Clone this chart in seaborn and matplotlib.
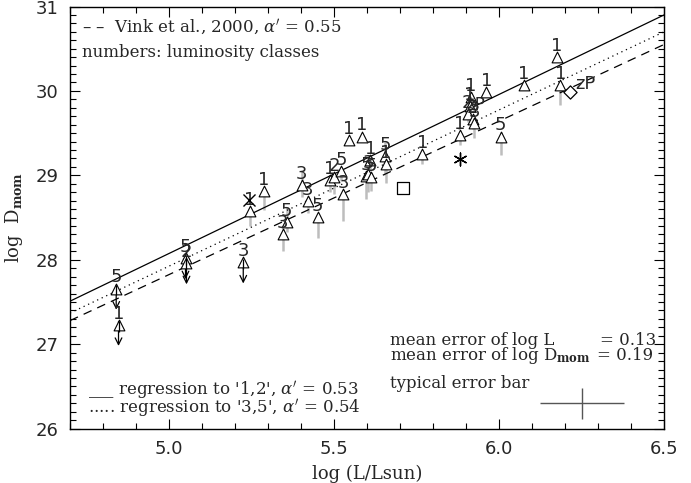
import numpy as np
import pandas as pd
import matplotlib
matplotlib.use("Agg")
import matplotlib.pyplot as plt
import seaborn as sns

# ---------------- data ----------------
log_L = [4.840, 4.847, 5.050, 5.053, 5.225, 5.245, 5.288, 5.402, 5.421, 5.357,
         5.344, 5.450, 5.488, 5.500, 5.521, 5.528, 5.544, 5.585, 5.597, 5.604,
         5.613, 5.610, 5.655, 5.657, 5.768, 5.882, 5.915, 5.912, 5.905, 5.920,
         5.925, 5.962, 6.005, 6.075, 6.175, 6.186]
log_D = [27.66, 27.23, 28.02, 27.96, 27.97, 28.58, 28.81, 28.89, 28.70, 28.45,
         28.31, 28.51, 28.95, 28.98, 29.05, 28.78, 29.42, 29.46, 28.99, 29.02,
         28.98, 29.18, 29.23, 29.13, 29.25, 29.48, 29.93, 29.82, 29.73, 29.67,
         29.62, 29.99, 29.46, 30.07, 30.40, 30.07]
lum_class = ["5", "1", "5", "2", "3", "1", "1", "3", "3", "5",
             "3", "5", "1", "2", "5", "3", "1", "1", "5", "3",
             "5", "1", "5", "1", "1", "1", "1", "1", "2", "2",
             "3", "1", "5", "1", "1", "1"]
err_lo = [0.0, 0.0, 0.0, 0.0, 0.0, 0.18, 0.22, 0.15, 0.15, 0.12,
          0.20, 0.25, 0.15, 0.20, 0.12, 0.32, 0.0, 0.0, 0.27, 0.22,
          0.17, 0.12, 0.22, 0.22, 0.12, 0.12, 0.10, 0.12, 0.10, 0.12,
          0.18, 0.0, 0.22, 0.0, 0.0, 0.24]
err_hi = [0.0, 0.0, 0.0, 0.0, 0.0, 0.05, 0.0, 0.17, 0.05, 0.17,
          0.05, 0.05, 0.05, 0.05, 0.05, 0.05, 0.0, 0.0, 0.05, 0.05,
          0.05, 0.05, 0.17, 0.05, 0.0, 0.0, 0.0, 0.0, 0.0, 0.0,
          0.0, 0.0, 0.05, 0.0, 0.0, 0.0]
upper_limit = [True, True, True, True, True] + [False] * 31

# special objects
cross_x, cross_y = [5.242], [28.71]
square_x, square_y = [5.709], [28.85]
star_x, star_y = [5.882], [29.19]
diamond_x, diamond_y = [6.215], [29.99]

# regression lines (end points at log L = 4.7 and 6.5)
line_x = [4.7, 6.5]
reg12_y = [27.51, 30.90]
reg35_y = [27.37, 30.70]
vink_y = [27.28, 30.55]

# typical error bar
typ_x, typ_y, typ_xerr, typ_yerr = 6.252, 26.30, 0.127, 0.18

df = pd.DataFrame({"logL": log_L, "logD": log_D, "lc": lum_class,
                   "elo": err_lo, "ehi": err_hi, "ul": upper_limit})

# ---------------- figure ----------------
sns.set_style("ticks")
plt.rcParams["font.family"] = ["DejaVu Serif"]
plt.rcParams["mathtext.fontset"] = "dejavuserif"

fig = plt.figure(figsize=(6.91, 4.83), dpi=100)
ax = fig.add_axes([70 / 691, 1 - 428.7 / 483, 594 / 691, 422.2 / 483])

# grey error bars
for _, r in df.iterrows():
    if r.elo > 0 or r.ehi > 0:
        ax.vlines(r.logL, r.logD - r.elo, r.logD + r.ehi, color="#bdbdbd",
                  lw=1.8, zorder=1)

# regression lines
sns.lineplot(x=line_x, y=reg12_y, ax=ax, color="black", lw=0.9, zorder=2)
sns.lineplot(x=line_x, y=reg35_y, ax=ax, color="black", lw=0.9,
             linestyle=(0, (1, 3)), zorder=2)
sns.lineplot(x=line_x, y=vink_y, ax=ax, color="black", lw=0.9,
             linestyle=(0, (7, 5)), zorder=2)

# upper limit arrows
for _, r in df[df.ul].iterrows():
    ax.annotate("", xy=(r.logL, r.logD - 0.25), xytext=(r.logL, r.logD + 0.04),
                arrowprops=dict(arrowstyle="->", lw=0.9, color="black",
                                mutation_scale=12, shrinkA=0, shrinkB=0),
                zorder=3)

# triangles
sns.scatterplot(data=df, x="logL", y="logD", ax=ax, marker="^", s=60,
                facecolor="white", edgecolor="black", linewidth=0.8,
                zorder=4, legend=False)
# shaft through the limit triangles
for _, r in df[df.ul].iterrows():
    ax.vlines(r.logL, r.logD - 0.08, r.logD + 0.04, color="black", lw=0.9,
              zorder=4.5)

# luminosity class numbers
for _, r in df.iterrows():
    ax.annotate(r.lc, (r.logL, r.logD), xytext=(0, 1.5),
                textcoords="offset points", ha="center", va="bottom",
                fontsize=13, family="DejaVu Sans", zorder=5)

# special markers
sns.scatterplot(x=cross_x, y=cross_y, ax=ax, marker="x", s=75,
                color="black", linewidth=1.0, zorder=5)
sns.scatterplot(x=square_x, y=square_y, ax=ax, marker="s", s=85,
                facecolor="white", edgecolor="black", linewidth=0.9, zorder=5)
sns.scatterplot(x=star_x, y=star_y, ax=ax, marker=(6, 2, 0), s=85,
                color="black", linewidth=1.0, zorder=5)
sns.scatterplot(x=diamond_x, y=diamond_y, ax=ax, marker="D", s=45,
                facecolor="white", edgecolor="black", linewidth=0.9, zorder=5)
ax.annotate("zP", (diamond_x[0], diamond_y[0]), xytext=(4, -1),
            textcoords="offset points", ha="left", va="bottom", fontsize=13,
            family="DejaVu Sans", zorder=5)
ax.annotate("zP", (5.900, 29.73), xytext=(0, 0),
            textcoords="offset points", ha="left", va="bottom", fontsize=12,
            family="DejaVu Sans", zorder=5)

# typical error bar
ax.errorbar(typ_x, typ_y, xerr=typ_xerr, yerr=typ_yerr, fmt="none",
            ecolor="#555555", elinewidth=1.0, capsize=0)

# texts
fs = 12
ax.text(4.736, 30.76, "– –  Vink et al., 2000, $\\alpha'$ = 0.55", fontsize=fs,
        va="center", ha="left")
ax.text(4.736, 30.45, "numbers: luminosity classes", fontsize=fs,
        va="center", ha="left")
ax.text(5.67, 27.05, "mean error of log L", fontsize=fs, va="center", ha="left")
ax.text(6.307, 27.05, "= 0.13", fontsize=fs, va="center", ha="left")
ax.text(5.67, 26.87, "mean error of log D$_{\\mathbf{mom}}$", fontsize=fs,
        va="center", ha="left")
ax.text(6.297, 26.87, "= 0.19", fontsize=fs, va="center", ha="left")
ax.text(5.67, 26.54, "typical error bar", fontsize=fs, va="center", ha="left")
ax.text(4.755, 26.45, "___ regression to '1,2', $\\alpha'$ = 0.53", fontsize=fs,
        va="center", ha="left")
ax.text(4.755, 26.24, "..... regression to '3,5', $\\alpha'$ = 0.54", fontsize=fs,
        va="center", ha="left")

# axes
ax.set_xlim(4.7, 6.5)
ax.set_ylim(26, 31)
ax.set_xticks([5.0, 5.5, 6.0, 6.5])
ax.set_xticks(np.arange(4.7, 6.5, 0.1), minor=True)
ax.set_yticks([26, 27, 28, 29, 30, 31])
ax.set_yticks(np.arange(26, 31.01, 0.1), minor=True)
ax.set_xticklabels(["5.0", "5.5", "6.0", "6.5"], family="DejaVu Sans", fontsize=13)
ax.set_yticklabels(["26", "27", "28", "29", "30", "31"], family="DejaVu Sans",
                   fontsize=13)
ax.tick_params(which="both", direction="in", top=True, right=True,
               color="black", width=0.8)
ax.tick_params(which="major", length=7, pad=8)
ax.tick_params(which="minor", length=4)
for sp in ax.spines.values():
    sp.set_color("black")
    sp.set_linewidth(1.0)
ax.set_xlabel("log (L/Lsun)", fontsize=13, labelpad=5)
ax.set_ylabel("log  D$_{\\mathbf{mom}}$", fontsize=13, labelpad=8)

fig.savefig("out.png", dpi=100)
